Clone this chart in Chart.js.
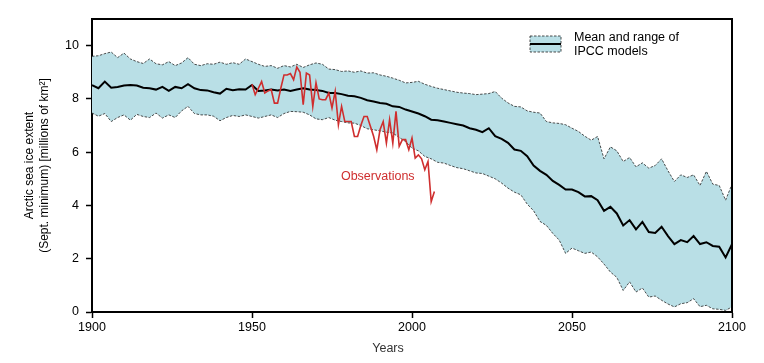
<!DOCTYPE html>
<html>
<head>
<meta charset="utf-8">
<script src="https://cdn.jsdelivr.net/npm/chart.js@4.4.1/dist/chart.umd.min.js"></script>
<style>
  html, body { margin: 0; padding: 0; background: #fff; }
  #wrap { width: 764px; height: 363px; }
</style>
</head>
<body>
<div id="wrap"><canvas id="chart" width="764" height="363"></canvas></div>
<script>
// model runs are read every 2 years, 1900..2100
const MODEL_FIRST_YEAR = 1900;
const MODEL_YEAR_STEP = 2;

const modelMean = [
  8.52, 8.40, 8.65, 8.42, 8.45, 8.50, 8.52, 8.50, 8.42, 8.40,
  8.35, 8.45, 8.30, 8.45, 8.40, 8.55, 8.40, 8.33, 8.32, 8.25,
  8.20, 8.38, 8.33, 8.36, 8.35, 8.52, 8.30, 8.32, 8.35, 8.32,
  8.35, 8.30, 8.35, 8.40, 8.35, 8.33, 8.30, 8.22, 8.22, 8.18,
  8.12, 8.10, 8.04, 7.95, 7.90, 7.85, 7.82, 7.72, 7.70, 7.60,
  7.53, 7.45, 7.35, 7.22, 7.20, 7.15, 7.10, 7.05, 7.00, 6.90,
  6.84, 6.75, 6.90, 6.60, 6.50, 6.35, 6.10, 6.05, 5.85, 5.50,
  5.30, 5.15, 4.92, 4.77, 4.60, 4.60, 4.50, 4.34, 4.35, 4.20,
  3.80, 3.95, 3.70, 3.25, 3.45, 3.10, 3.38, 3.00, 2.97, 3.20,
  2.85, 2.55, 2.70, 2.62, 2.85, 2.55, 2.62, 2.48, 2.45, 2.05,
  2.55
];

const modelUpper = [
  9.60, 9.62, 9.70, 9.76, 9.55, 9.72, 9.50, 9.40, 9.33, 9.50,
  9.32, 9.28, 9.40, 9.25, 9.35, 9.55, 9.30, 9.25, 9.32, 9.30,
  9.38, 9.30, 9.36, 9.30, 9.50, 9.40, 9.30, 9.22, 9.25, 9.15,
  9.25, 9.20, 9.30, 9.18, 9.28, 9.35, 9.30, 9.12, 9.10, 9.03,
  9.05, 9.00, 9.05, 8.97, 8.98, 8.90, 8.85, 8.78, 8.70, 8.60,
  8.62, 8.66, 8.55, 8.47, 8.40, 8.35, 8.30, 8.25, 8.22, 8.20,
  8.16, 8.18, 8.20, 8.28, 8.03, 7.85, 7.72, 7.70, 7.55, 7.50,
  7.47, 7.15, 7.10, 7.08, 7.03, 6.90, 6.78, 6.60, 6.45, 6.59,
  5.75, 6.20, 6.05, 5.65, 5.80, 5.45, 5.60, 5.40, 5.50, 5.75,
  5.30, 4.90, 5.15, 5.05, 5.15, 4.75, 5.28, 4.80, 4.75, 4.20,
  4.80
];

const modelLower = [
  7.47, 7.35, 7.45, 7.15, 7.30, 7.40, 7.20, 7.42, 7.34, 7.30,
  7.47, 7.28, 7.40, 7.30, 7.55, 7.72, 7.45, 7.40, 7.40, 7.35,
  7.18, 7.30, 7.38, 7.34, 7.40, 7.34, 7.28, 7.34, 7.40, 7.30,
  7.45, 7.53, 7.52, 7.50, 7.40, 7.25, 7.22, 7.30, 7.20, 7.15,
  7.10, 7.09, 7.00, 6.88, 6.84, 6.80, 6.75, 6.72, 6.55, 6.40,
  6.15, 6.05, 5.84, 5.75, 5.62, 5.59, 5.50, 5.42, 5.38, 5.30,
  5.22, 5.20, 5.10, 5.00, 4.84, 4.65, 4.50, 4.40, 4.05, 3.80,
  3.40, 3.25, 2.95, 2.70, 2.20, 2.40, 2.30, 2.20, 2.25, 2.07,
  1.80, 1.50, 1.30, 0.81, 1.13, 0.75, 0.90, 0.56, 0.60, 0.44,
  0.30, 0.19, 0.31, 0.35, 0.50, 0.20, 0.25, 0.12, 0.10, 0.06,
  0.19
];

// observed September minimum, one value per year from 1950
const OBS_FIRST_YEAR = 1950;
const observations = [
  8.55, 8.16, 8.40, 8.65, 8.22, 8.30, 8.35, 7.84, 7.84, 8.40,
  8.90, 8.90, 8.95, 8.72, 9.20, 9.00, 7.78, 8.97, 8.90, 7.72,
  8.60, 8.00, 7.97, 7.97, 8.22, 7.66, 8.28, 7.03, 7.72, 7.15,
  7.15, 7.15, 6.59, 6.59, 7.00, 7.34, 7.34, 6.97, 6.60, 6.09,
  6.84, 7.15, 6.34, 7.22, 6.34, 7.53, 6.22, 6.47, 6.47, 6.09,
  6.53, 5.78, 5.90, 5.75, 5.34, 5.65, 4.14, 4.52
];

const xTicks = [1900, 1950, 2000, 2050, 2100];
const yTicks = [0, 2, 4, 6, 8, 10];

const BAND_FILL = "#b9dfe6";
const OBS_RED = "#cf2e2e";
const FONT = "'Liberation Sans', Arial, Helvetica, sans-serif";

const toPoints = (arr, first, step) => arr.map((v, i) => ({ x: first + i * step, y: v }));

// frame, axis titles, legend and the "Observations" label
const decorations = {
  id: "decorations",
  afterDraw(chart) {
    const { ctx, chartArea: a, scales } = chart;
    ctx.save();

    // top + right edges of the frame
    ctx.strokeStyle = "#000";
    ctx.lineWidth = 2;
    ctx.beginPath();
    ctx.moveTo(a.left - 1, a.top);
    ctx.lineTo(a.right, a.top);
    ctx.lineTo(a.right, a.bottom + 1);
    ctx.stroke();

    // y title
    ctx.fillStyle = "#000";
    ctx.font = "12px " + FONT;
    ctx.textAlign = "center";
    ctx.textBaseline = "middle";
    ctx.save();
    ctx.translate(30, (a.top + a.bottom) / 2);
    ctx.rotate(-Math.PI / 2);
    ctx.fillText("Arctic sea ice extent", 0, 0);
    ctx.fillText("(Sept. minimum) [millions of km\u00B2]", 0, 15);
    ctx.restore();

    // x title
    ctx.font = "12.5px 'Liberation Sans Narrow', " + FONT;
    ctx.fillStyle = "#333";
    ctx.fillText("Years", 388, 349);

    // legend
    const bx = 530, by = 36, bw = 31, bh = 16;
    ctx.fillStyle = BAND_FILL;
    ctx.fillRect(bx, by, bw, bh);
    ctx.strokeStyle = "#222";
    ctx.lineWidth = 0.8;
    ctx.setLineDash([2.5, 1.5]);
    ctx.strokeRect(bx, by, bw, bh);
    ctx.setLineDash([]);
    ctx.strokeStyle = "#000";
    ctx.lineWidth = 2;
    ctx.beginPath();
    ctx.moveTo(bx, by + bh / 2);
    ctx.lineTo(bx + bw, by + bh / 2);
    ctx.stroke();

    ctx.fillStyle = "#000";
    ctx.font = "12.5px " + FONT;
    ctx.textAlign = "left";
    ctx.fillText("Mean and range of", 574, 38);
    ctx.fillText("IPCC models", 574, 52);

    // observations label
    ctx.fillStyle = OBS_RED;
    ctx.textAlign = "center";
    ctx.fillText("Observations", scales.x.getPixelForValue(1989.3), scales.y.getPixelForValue(5.1));

    ctx.restore();
  }
};

const dashedLine = {
  borderColor: "#222",
  borderWidth: 0.8,
  borderDash: [2.5, 1.5],
  pointRadius: 0,
  tension: 0
};

new Chart(document.getElementById("chart"), {
  type: "line",
  data: {
    datasets: [
      {
        label: "Observations",
        data: toPoints(observations, OBS_FIRST_YEAR, 1),
        borderColor: OBS_RED,
        borderWidth: 1.6,
        pointRadius: 0,
        tension: 0,
        fill: false
      },
      {
        label: "Mean of IPCC models",
        data: toPoints(modelMean, MODEL_FIRST_YEAR, MODEL_YEAR_STEP),
        borderColor: "#000",
        borderWidth: 2,
        pointRadius: 0,
        tension: 0,
        fill: false
      },
      {
        label: "Upper",
        data: toPoints(modelUpper, MODEL_FIRST_YEAR, MODEL_YEAR_STEP),
        ...dashedLine,
        backgroundColor: BAND_FILL,
        fill: "+1"
      },
      {
        label: "Lower",
        data: toPoints(modelLower, MODEL_FIRST_YEAR, MODEL_YEAR_STEP),
        ...dashedLine,
        fill: false
      }
    ]
  },
  options: {
    responsive: false,
    devicePixelRatio: 1,
    animation: false,
    layout: { padding: { top: 19, right: 32, left: 0, bottom: 0 } },
    plugins: {
      legend: { display: false },
      tooltip: { enabled: false },
      filler: { drawTime: "beforeDatasetsDraw" }
    },
    scales: {
      x: {
        type: "linear",
        min: 1900,
        max: 2100,
        afterBuildTicks: s => { s.ticks = xTicks.map(v => ({ value: v })); },
        afterFit: s => { s.height = 51; },
        grid: { drawOnChartArea: false, drawTicks: true, tickLength: 6, tickColor: "#000", tickWidth: 1.5 },
        border: { color: "#000", width: 2 },
        ticks: {
          color: "#000", padding: 2, maxRotation: 0,
          font: { family: FONT, size: 12.5 },
          callback: v => String(v)
        }
      },
      y: {
        min: 0,
        max: 11,
        afterBuildTicks: s => { s.ticks = yTicks.map(v => ({ value: v })); },
        afterFit: s => { s.width = 92; },
        grid: { drawOnChartArea: false, drawTicks: true, tickLength: 6, tickColor: "#000", tickWidth: 1.5 },
        border: { color: "#000", width: 2 },
        ticks: { color: "#000", padding: 7, font: { family: FONT, size: 12.5 } }
      }
    }
  },
  plugins: [decorations]
});
</script>
</body>
</html>
